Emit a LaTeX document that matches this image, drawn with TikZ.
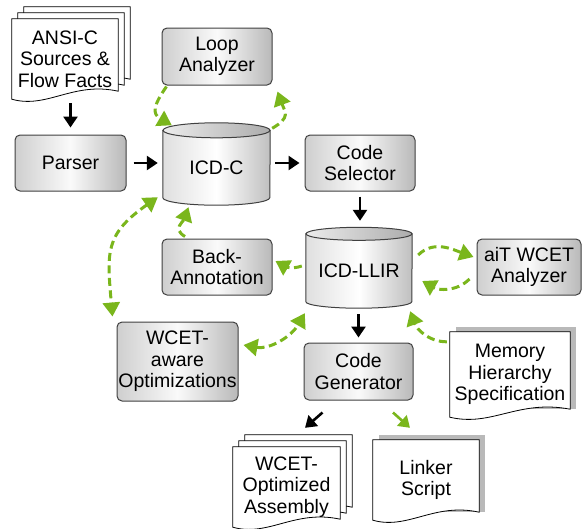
\documentclass[tikz,border=0pt]{standalone}
\usepackage{fontspec}
\setmainfont{Liberation Sans}
\usetikzlibrary{arrows.meta,calc,backgrounds}
\definecolor{leafgreen}{RGB}{122,182,28}
\definecolor{boxline}{RGB}{64,64,64}

\newcommand{\docpage}[3]{%
        \filldraw[page] ($(#1.north west)+(#2,#3)$) -- ($(#1.north east)+(#2,#3)$)
          -- ($(#1.south east)+(#2,#3+8)$)
          .. controls ($(#1.south)+(#2+8,#3+18)$) and ($(#1.south)+(#2-18,#3-10)$)
          .. ($(#1.south west)+(#2,#3)$) -- cycle;}
\newcommand{\docshadow}[1]{%
        \fill[gray!55] ($(#1.north west)+(6,5)$) rectangle ($(#1.south east)+(6,8)$);}
\newcommand{\dbdraw}[3]{%
        \draw[dbbody] (#1.north west) -- ($(#1.south west)+(0,#3)$)
          arc[start angle=180,end angle=360,x radius=#2,y radius=#3] -- (#1.north east) -- cycle;
        \draw[dbtop] (#1.north) ellipse[x radius=#2,y radius=#3];}

\begin{document}
\begin{tikzpicture}[x=1pt,y=1pt,
        font=\fontsize{19.5}{21.5}\selectfont,
        box/.style={draw=boxline,line width=1pt,rounded corners=5pt,align=center,inner sep=0pt,
          left color=gray!38,right color=gray!55,middle color=gray!4},
        doc/.style={align=center,inner sep=0pt},
        db/.style={align=center,inner sep=0pt},
        page/.style={draw=black,line width=0.8pt,fill=white},
        dbbody/.style={draw=boxline,line width=1pt,left color=gray!25,right color=gray!50,middle color=white},
        dbtop/.style={draw=boxline,line width=1pt,left color=gray!15,right color=gray!65},
        flow/.style={-{Triangle[length=11pt,width=14pt]},line width=2.6pt},
        feed/.style={-{Triangle[length=14pt,width=17pt]},leafgreen,line width=3pt,dash pattern=on 8pt off 4.5pt},
        feedboth/.style={feed,{Triangle[length=14pt,width=17pt]}-{Triangle[length=14pt,width=17pt]}}]
        \useasboundingbox (0,0) rectangle (583,-528);

        \node[doc,minimum width=106,minimum height=80] (sources) at (65,-59) {ANSI-C\\Sources \&\\Flow Facts};
        \node[box,minimum width=111,minimum height=56] (parser) at (70.5,-163) {Parser};
        \node[box,minimum width=110,minimum height=57] (loop) at (217,-56.5) {Loop\\Analyzer};
        \node[db,minimum width=107,minimum height=74.5] (icdc) at (216.5,-167.75) {ICD-C};
        \node[box,minimum width=110,minimum height=56] (codesel) at (360,-163) {Code\\Selector};
        \node[db,minimum width=106,minimum height=74] (llir) at (359,-271) {ICD-LLIR};
        \node[box,minimum width=104,minimum height=56] (ait) at (529,-267) {aiT WCET\\Analyzer};
        \node[box,minimum width=110,minimum height=56] (backann) at (217,-267) {Back-\\Annotation};
        \node[box,minimum width=121,minimum height=79] (wcetopt) at (177.5,-361.5) {WCET-\\aware\\Optimizations};
        \node[box,minimum width=109,minimum height=57] (codegen) at (358.5,-371.5) {Code\\Generator};
        \node[doc,minimum width=120,minimum height=85] (memspec) at (510,-374.5) {Memory\\Hierarchy\\Specification};
        \node[doc,minimum width=107,minimum height=80] (asm) at (286.5,-487) {WCET-\\Optimized\\Assembly};
        \node[doc,minimum width=106,minimum height=80] (linker) at (426,-480) {Linker\\Script};

        \begin{scope}[on background layer]
        \docpage{sources}{12}{12}
        \docpage{sources}{6}{6}
        \docpage{sources}{0}{0}
        \docpage{asm}{12}{12}
        \docpage{asm}{6}{6}
        \docpage{asm}{0}{0}
        \docshadow{memspec}
        \docpage{memspec}{0}{0}
        \docshadow{linker}
        \docpage{linker}{0}{0}
        \dbdraw{icdc}{53.5}{7.5}
        \dbdraw{llir}{53}{6.5}
        \end{scope}

        \draw[flow,shorten <=4pt,shorten >=7pt] (sources.south -| parser) -- (parser.north);
        \draw[flow,shorten <=7pt,shorten >=5pt] (parser.east) -- (parser.east -| icdc.west);
        \draw[flow,shorten <=5pt,shorten >=5pt] (icdc.east |- codesel.west) -- (codesel.west);
        \draw[flow,shorten <=5pt,shorten >=13pt] (codesel.south) -- (codesel.south |- llir.north);
        \draw[flow,shorten <=6pt,shorten >=5pt] (llir.south -| codegen) -- (codegen.north);
        \draw[flow] ([shift={(-36,-12)}]codegen.south) -- ([shift={(18.5,19)}]asm.north);
        \draw[flow,leafgreen] ([shift={(34.5,-12)}]codegen.south) -- ([shift={(-16,12)}]linker.north);

        \draw[feed] ([shift={(5,-1)}]loop.south west) to[out=235,in=150,looseness=1.5] ([shift={(9,5)}]icdc.north west);
        \draw[feed] ([shift={(2,2)}]icdc.north east) to[out=30,in=-70,looseness=1.5] ([shift={(5,-6)}]loop.south east);
        \draw[feed] ([shift={(6,16)}]llir.east) to[out=45,in=160] ([shift={(-3,10)}]ait.west);
        \draw[feed] ([shift={(-7,-12)}]ait.west) to[out=225,in=-30] ([shift={(10,-10)}]llir.east);
        \draw[feed] ([shift={(-4,5)}]llir.west) to[out=200,in=-30] ([shift={(3,6)}]backann.east);
        \draw[feed] ([shift={(-32,2)}]backann.north) to[out=150,in=-110,looseness=1.3] ([shift={(-28,-2)}]icdc.south);
        \draw[feedboth] ([shift={(-5,8)}]icdc.south west) to[out=215,in=95,looseness=1.3] ([shift={(-4,5)}]wcetopt.north west);
        \draw[feedboth] ([shift={(5,16.5)}]wcetopt.east) to[out=-10,in=-120] ([shift={(-1,-5)}]llir.south west);
        \draw[feed] ([shift={(-3,-10)}]memspec.north west) to[out=180,in=-70] ([shift={(-2,-3)}]llir.south east);
    \end{tikzpicture}
\end{document}
